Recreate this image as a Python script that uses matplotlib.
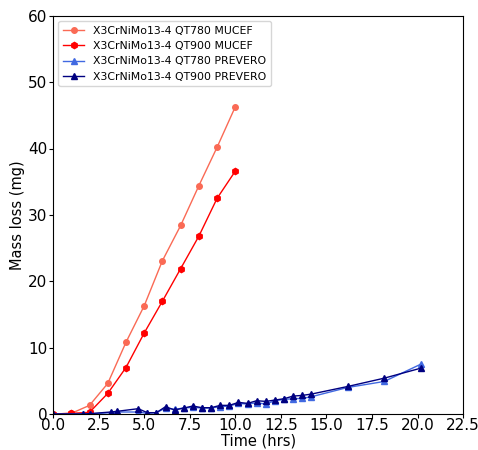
import matplotlib
matplotlib.use("Agg")
import matplotlib.pyplot as plt

# MUCEF runs (hourly readings)
t_mucef = [0, 1, 2, 3, 4, 5, 6, 7, 8, 9, 10]
qt780_mucef = [0, 0.1, 1.3, 4.6, 10.8, 16.3, 23.1, 28.4, 34.4, 40.2, 46.3]
qt900_mucef = [0, 0.1, 0.25, 3.1, 7.0, 12.2, 17.0, 21.9, 26.8, 32.5, 36.6]

# PREVERO runs
t_prevero = [0, 1.67, 2.0, 3.17, 3.5, 4.67, 5.17, 5.67, 6.17, 6.67, 7.17, 7.67,
             8.17, 8.67, 9.17, 9.67, 10.17, 10.67, 11.17, 11.67, 12.17, 12.67,
             13.17, 13.67, 14.17, 16.17, 18.17, 20.17]
qt780_prevero = [0, 0, 0, 0.2, 0.3, 0.3, 0.1, 0.2, 0.9, 0.7, 0.9, 1.0,
                 0.9, 0.9, 1.1, 1.2, 1.6, 1.5, 1.7, 1.5, 2.0, 2.2,
                 2.3, 2.35, 2.6, 4.0, 4.9, 7.5]
qt900_prevero = [0, 0, 0.05, 0.3, 0.4, 0.8, 0.2, 0.2, 1.1, 0.6, 0.9, 1.2,
                 0.95, 0.95, 1.3, 1.3, 1.75, 1.6, 2.0, 1.9, 2.1, 2.3,
                 2.7, 2.8, 3.0, 4.15, 5.4, 6.9]

fig = plt.figure(figsize=(4.78, 4.5), dpi=100)
ax = fig.add_axes([0.111, 0.08, 0.858, 0.885])

ax.plot(t_mucef, qt780_mucef, color="#fa6a55", marker="o", markersize=4,
        linewidth=1, label="X3CrNiMo13-4 QT780 MUCEF")
ax.plot(t_mucef, qt900_mucef, color="red", marker="h", markersize=4.5,
        linewidth=1, label="X3CrNiMo13-4 QT900 MUCEF")
ax.plot(t_prevero, qt780_prevero, color="royalblue", marker="^", markersize=4,
        linewidth=1, label="X3CrNiMo13-4 QT780 PREVERO")
ax.plot(t_prevero, qt900_prevero, color="navy", marker="^", markersize=4,
        linewidth=1, label="X3CrNiMo13-4 QT900 PREVERO")

ax.set_xlim(0, 22.5)
ax.set_ylim(0, 60)
ax.set_xticks([0, 2.5, 5, 7.5, 10, 12.5, 15, 17.5, 20, 22.5])
ax.set_xlabel("Time (hrs)", fontsize=10.5, labelpad=0)
ax.set_ylabel("Mass loss (mg)", fontsize=10.5, labelpad=2)
ax.tick_params(labelsize=11, length=3)
ax.tick_params(axis="x", pad=0)
ax.tick_params(axis="y", pad=1)
ax.legend(loc="upper left", fontsize=7.8)

fig.savefig("out.png", dpi=100)
